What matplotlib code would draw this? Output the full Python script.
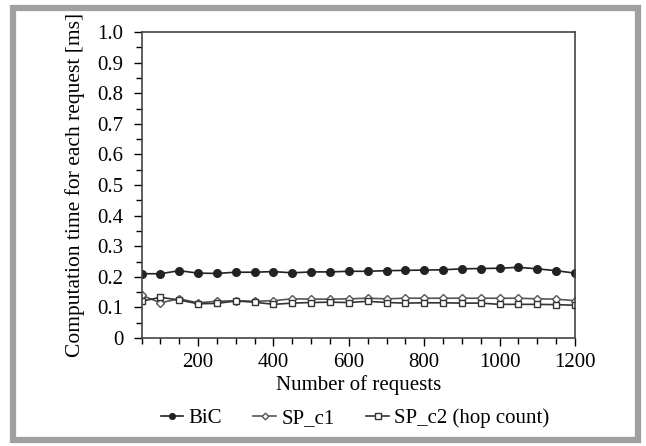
import numpy as np
import matplotlib
matplotlib.use("Agg")
import matplotlib.pyplot as plt
from matplotlib.patches import Rectangle
from matplotlib.ticker import MultipleLocator

requests = [50, 100, 150, 200, 250, 300, 350, 400, 450, 500, 550, 600,
            650, 700, 750, 800, 850, 900, 950, 1000, 1050, 1100, 1150, 1200]
bic = [0.210, 0.210, 0.220, 0.212, 0.211, 0.215, 0.215, 0.217, 0.213, 0.216, 0.216, 0.218,
       0.218, 0.220, 0.221, 0.222, 0.223, 0.226, 0.227, 0.228, 0.231, 0.226, 0.220, 0.212]
sp_c1 = [0.140, 0.115, 0.128, 0.115, 0.120, 0.122, 0.120, 0.122, 0.128, 0.127, 0.127, 0.128,
         0.130, 0.128, 0.130, 0.130, 0.130, 0.130, 0.130, 0.130, 0.130, 0.128, 0.127, 0.122]
sp_c2 = [0.120, 0.133, 0.124, 0.112, 0.113, 0.121, 0.117, 0.110, 0.114, 0.116, 0.117, 0.116,
         0.120, 0.116, 0.114, 0.115, 0.115, 0.114, 0.114, 0.110, 0.110, 0.110, 0.109, 0.107]

plt.rcParams['font.family'] = ['Liberation Serif', 'DejaVu Serif']
plt.rcParams['font.size'] = 15

W, H = 646, 446
fig = plt.figure(figsize=(W/100, H/100), dpi=100)
# grey frame round the figure
fig.patches.append(Rectangle((13/W, 1-440/H), (638-13)/W, (440-8)/H, transform=fig.transFigure,
                             fill=False, edgecolor='#a0a0a0', linewidth=4.5))
ax = fig.add_axes([141.5/W, 1-338/H, (575-141.5)/W, (338-32)/H])

ax.plot(requests, bic, color='#222222', marker='o', markersize=5.5, linewidth=1.2,
        markerfacecolor='#222222', markeredgecolor='#222222', label='BiC')
ax.plot(requests, sp_c1, color='#555555', marker='D', markersize=4.5, linewidth=1.2,
        markerfacecolor='white', markeredgecolor='#555555', label='SP_c1')
ax.plot(requests, sp_c2, color='#333333', marker='s', markersize=5, linewidth=1.2,
        markerfacecolor='white', markeredgecolor='#333333', label='SP_c2 (hop count)')

ax.set_xlim(50, 1200)
ax.set_ylim(0, 1.0)
ax.xaxis.set_major_locator(MultipleLocator(200))
ax.xaxis.set_minor_locator(MultipleLocator(50))
ax.yaxis.set_minor_locator(MultipleLocator(0.05))
ax.set_yticks(np.arange(0, 1.01, 0.1))
ax.set_yticklabels(['0'] + ['%.1f' % v for v in np.arange(0.1, 1.01, 0.1)])
ax.tick_params(which='major', length=6, width=1, direction='out', pad=5)
ax.tick_params(which='minor', length=4.5, width=1, direction='out')
ax.tick_params(axis='y', which='major', pad=7)
for s in ax.spines.values():
    s.set_color('#444444')
    s.set_linewidth(1.2)

ax.set_xlabel('Number of requests', labelpad=2)
ax.set_ylabel('Computation time for each request [ms]', labelpad=9, fontsize=15.5)

ax.legend(loc='center', bbox_to_anchor=(355/W, 1-418/H), bbox_transform=fig.transFigure,
          ncol=3, frameon=False, markerscale=0.75,
          handlelength=1.1, handletextpad=0.25, columnspacing=1.5, fontsize=15)

fig.savefig('out.png', dpi=100)
